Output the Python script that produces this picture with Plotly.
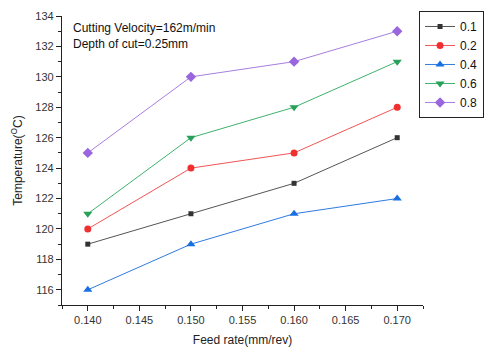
import plotly.graph_objects as go

feed_rate = [0.140, 0.150, 0.160, 0.170]
series_names = ["0.1", "0.2", "0.4", "0.6", "0.8"]
temp_01 = [119, 121, 123, 126]
temp_02 = [120, 124, 125, 128]
temp_04 = [116, 119, 121, 122]
temp_06 = [121, 126, 128, 131]
temp_08 = [125, 130, 131, 133]

series_values = [temp_01, temp_02, temp_04, temp_06, temp_08]
line_colors = ["#555555", "#f25555", "#2f7be0", "#3fb36e", "#a77ee0"]
marker_colors = ["#333333", "#f03030", "#1a6fe0", "#28a05a", "#9a66dd"]
symbols = ["square", "circle", "triangle-up", "triangle-down", "diamond"]
sizes = [5, 7, 8, 8, 8]

fig = go.Figure()
for name, vals, lc, mc, sym, sz in zip(series_names, series_values, line_colors,
                                      marker_colors, symbols, sizes):
    fig.add_trace(go.Scatter(
        x=feed_rate, y=vals, name=name, mode="lines+markers",
        line=dict(color=lc, width=1),
        marker=dict(symbol=sym, size=sz, color=mc),
    ))

font = "Liberation Sans, Arial, sans-serif"
axis_common = dict(
    showline=True, linecolor="#222222", linewidth=1.2,
    ticks="outside", ticklen=5, tickcolor="#222222", tickwidth=1,
    showgrid=False, zeroline=False,
    tickfont=dict(family=font, size=11, color="#333333"),
    minor=dict(ticks="outside", ticklen=3, tickcolor="#222222"),
)

fig.update_layout(
    width=485, height=354,
    margin=dict(l=62, r=62, t=16, b=49, autoexpand=False),
    paper_bgcolor="white", plot_bgcolor="white",
    showlegend=True,
    legend=dict(
        xref="container", yref="container",
        x=0.864, y=0.969, xanchor="left", yanchor="top",
        bordercolor="#222222", borderwidth=1, bgcolor="white",
        font=dict(family=font, size=12, color="#111111"),
        tracegroupgap=0, itemwidth=30,
    ),
    xaxis=dict(
        range=[0.1375, 0.1725], tickvals=[0.140, 0.145, 0.150, 0.155, 0.160, 0.165, 0.170],
        tickformat=".3f",
        title=dict(text="Feed rate(mm/rev)", font=dict(family=font, size=12, color="#222222"),
                   standoff=10),
        **axis_common,
    ),
    yaxis=dict(
        range=[115, 134], tickvals=list(range(116, 135, 2)),
        title=dict(text="Temperature(<sup>O</sup>C)", font=dict(family=font, size=12, color="#222222"),
                   standoff=10),
        **axis_common,
    ),
    annotations=[
        dict(xref="paper", yref="paper", x=0.025, y=0.99, xanchor="left", yanchor="top",
             text="Cutting Velocity=162m/min<br>Depth of cut=0.25mm", showarrow=False,
             align="left", font=dict(family=font, size=12, color="#111111")),
    ],
)
fig.update_xaxes(minor=dict(dtick=0.0025, tick0=0.1375))
fig.update_yaxes(minor=dict(dtick=1, tick0=115))

fig.write_html("out.html")
